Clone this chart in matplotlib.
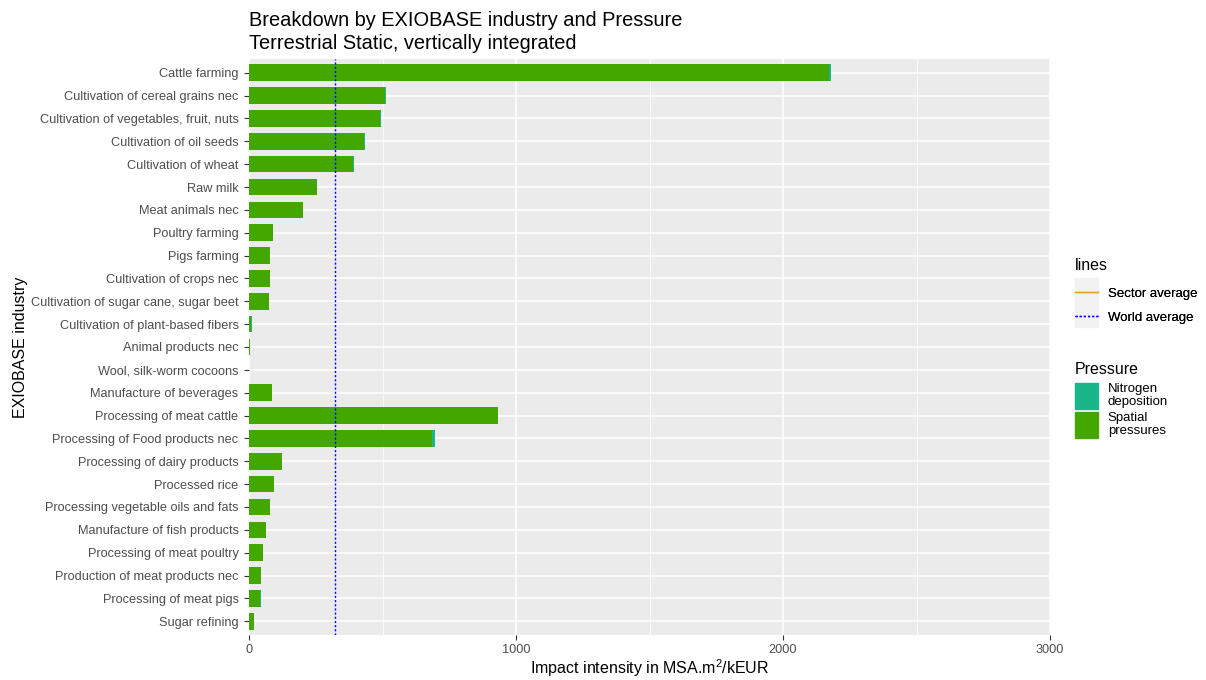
import numpy as np
import matplotlib.pyplot as plt
from matplotlib.lines import Line2D
from matplotlib.patches import Patch, Rectangle

plt.rcParams['font.family'] = ['Liberation Sans', 'DejaVu Sans']
plt.rcParams['mathtext.default'] = 'regular'

# data
industries = [
    'Cattle farming', 'Cultivation of cereal grains nec',
    'Cultivation of vegetables, fruit, nuts', 'Cultivation of oil seeds',
    'Cultivation of wheat', 'Raw milk', 'Meat animals nec', 'Poultry farming',
    'Pigs farming', 'Cultivation of crops nec',
    'Cultivation of sugar cane, sugar beet', 'Cultivation of plant-based fibers',
    'Animal products nec', 'Wool, silk-worm cocoons', 'Manufacture of beverages',
    'Processing of meat cattle', 'Processing of Food products nec',
    'Processing of dairy products', 'Processed rice',
    'Processing vegetable oils and fats', 'Manufacture of fish products',
    'Processing of meat poultry', 'Production of meat products nec',
    'Processing of meat pigs', 'Sugar refining',
]
spatial = [2171, 511, 492, 431, 390, 255, 203, 89, 77, 78, 74, 9, 3.5, 1,
           86, 931, 687, 124, 94, 79, 64, 53, 45, 43, 19]
nitrogen = [8, 2, 3, 3, 4, 1, 1, 2, 2, 1, 1, 0.5, 0.3, 0.2,
            0.5, 3, 10, 1, 1, 1, 1, 1, 1, 1, 1]
world_average = 321

c_nitrogen = '#1ab68a'
c_spatial = '#44a700'

W, H = 1206, 680
fig = plt.figure(figsize=(W / 100, H / 100), dpi=100)
ax = fig.add_axes([249 / W, 1 - 635 / H, 801 / W, 576 / H])
ax.set_facecolor('#ebebeb')

y = np.arange(len(industries))
ax.barh(y, spatial, height=0.73, color=c_spatial, zorder=3)
ax.barh(y, nitrogen, left=spatial, height=0.73, color=c_nitrogen, zorder=3)
ax.axvline(world_average, color='blue', lw=1, ls=(0, (1.5, 1.5)), zorder=4)

ax.set_xlim(0, 3000)
ax.set_ylim(len(industries) - 0.4, -0.6)
ax.set_xticks([0, 1000, 2000, 3000])
ax.set_xticks([500, 1500, 2500], minor=True)
ax.set_yticks(y)
ax.set_yticklabels(industries)
ax.grid(which='major', color='white', lw=1.1, zorder=0)
ax.grid(which='minor', axis='x', color='white', lw=0.55, zorder=0)
ax.set_axisbelow(True)
for s in ax.spines.values():
    s.set_visible(False)
ax.tick_params(which='major', length=3.5, color='#333333', labelcolor='#4d4d4d',
               labelsize=9.2, pad=3)
ax.tick_params(axis='y', pad=4)
ax.tick_params(which='minor', length=0)

ax.set_xlabel('Impact intensity in MSA.m$^2$/kEUR', fontsize=11.5, labelpad=1)
ax.set_ylabel('EXIOBASE industry', fontsize=11.5)
ax.yaxis.set_label_coords(-0.276, 0.5)
ax.set_title('Breakdown by EXIOBASE industry and Pressure\nTerrestrial Static, vertically integrated',
             loc='left', fontsize=14.4, pad=7, linespacing=1.3)

# legend: lines
fig.text(1075 / W, 1 - 266 / H, 'lines', fontsize=11.5, va='center', ha='left')
fig.patches.append(Rectangle((1075 / W, 1 - 327 / H), 23 / W, 49 / H,
                             transform=fig.transFigure, color='#f2f2f2', zorder=0))
line_handles = [Line2D([], [], color='#f0a020', lw=1),
                Line2D([], [], color='blue', lw=1, ls=(0, (1.5, 1.5)))]
leg1 = fig.legend(line_handles, ['Sector average', 'World average'],
                  loc='upper left', bbox_to_anchor=(1063 / W, 1 - 276 / H),
                  frameon=False, fontsize=9.5,
                  handlelength=1.75, handletextpad=0.75, labelspacing=0.85)

# legend: Pressure
fig.text(1075 / W, 1 - 370 / H, 'Pressure', fontsize=11.5, va='center', ha='left')
patch_handles = [Patch(color=c_nitrogen), Patch(color=c_spatial)]
leg2 = fig.legend(patch_handles, ['Nitrogen\ndeposition', 'Spatial\npressures'],
                  loc='upper left', bbox_to_anchor=(1063 / W, 1 - 371 / H),
                  frameon=False, fontsize=9.5,
                  handlelength=1.75, handleheight=2.65, handletextpad=0.75,
                  labelspacing=0.25)
for t in leg2.get_texts():
    t.set_linespacing(1.08)
fig.add_artist(leg1)

fig.savefig('out.png', dpi=100)
